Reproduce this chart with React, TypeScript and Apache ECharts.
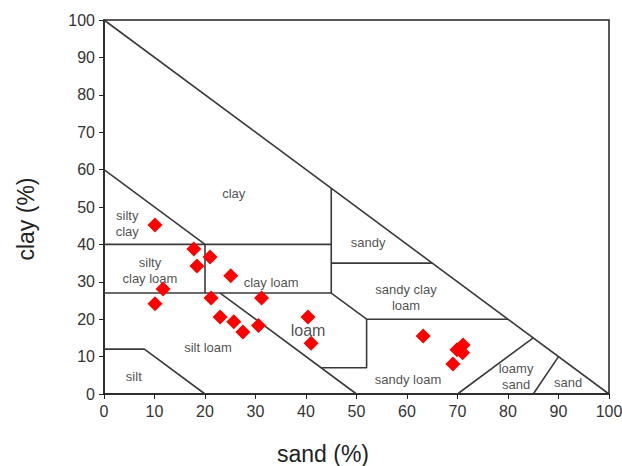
import React, { useEffect, useRef } from "react";
import * as echarts from "echarts";

const sandValues = [10.1, 17.8, 18.4, 21.0, 25.1, 11.7, 10.1, 21.2, 23.0, 25.7, 27.5, 31.2, 30.6, 40.4, 41.0, 63.2, 71.1, 69.9, 71.0, 69.1];
const clayValues = [45.2, 38.8, 34.2, 36.6, 31.6, 28.1, 24.1, 25.7, 20.6, 19.3, 16.6, 25.7, 18.3, 20.6, 13.6, 15.5, 13.1, 11.8, 11.0, 8.0];

// texture class boundaries as polylines [sand, clay]
const boundaries: number[][][] = [
  [[0, 100], [100, 0]],
  [[0, 60], [20, 40]],
  [[0, 40], [45, 40]],
  [[0, 27], [45, 27]],
  [[20, 40], [20, 27]],
  [[45, 55], [45, 27], [52, 20], [52, 7], [43, 7]],
  [[45, 35], [65, 35]],
  [[52, 20], [80, 20]],
  [[23, 27], [50, 0]],
  [[0, 12], [8, 12], [20, 0]],
  [[70, 0], [85, 15]],
  [[85, 0], [90, 10]],
];

const classNames = ["clay", "silty\nclay", "sandy", "silty\nclay loam", "clay loam", "sandy clay\nloam", "silt loam", "sandy loam", "loamy\nsand", "sand", "silt"];
const classSand = [25.7, 4.6, 52.3, 9.1, 33.1, 59.8, 20.6, 60.2, 81.6, 91.9, 5.9];
const classClay = [53.5, 45.6, 40.4, 33.0, 29.7, 25.8, 12.3, 4.0, 4.7, 3.2, 4.6];

const loamLabel = { name: "loam", sand: 40.4, clay: 17.1 };

const xAxisTitle = "sand (%)";
const yAxisTitle = "clay (%)";

export default function App() {
  const ref = useRef<HTMLDivElement>(null);
  useEffect(() => {
    document.body.style.margin = "0";
    const chart = echarts.init(ref.current!, undefined, { renderer: "svg" });
    const font = "Liberation Sans, Arial, sans-serif";
    const lineSeries = boundaries.map((b) => ({
      type: "line",
      data: b,
      symbol: "none",
      silent: true,
      lineStyle: { color: "#3a3a3a", width: 1.6 },
      z: 2,
    }));
    chart.setOption({
      animation: false,
      textStyle: { fontFamily: font },
      grid: {
        left: 104, right: 13, top: 20, bottom: 72,
        outerBoundsMode: "none", containLabel: false,
        show: true, borderColor: "#222", borderWidth: 1.5,
      },
      graphic: [
        {
          type: "text",
          x: 323,
          y: 454,
          style: { text: xAxisTitle, font: "23px Liberation Sans, Arial, sans-serif", fill: "#222", align: "center", verticalAlign: "middle" },
        },
        {
          type: "text",
          x: 26,
          y: 219,
          rotation: Math.PI / 2,
          style: { text: yAxisTitle, font: "23px Liberation Sans, Arial, sans-serif", fill: "#222", align: "center", verticalAlign: "middle" },
        },
      ],
      xAxis: {
        type: "value",
        min: 0,
        max: 100,
        interval: 10,
        axisLine: { lineStyle: { color: "#222", width: 1.5 } },
        axisTick: { show: true, inside: false, length: 5, lineStyle: { color: "#222" } },
        axisLabel: { fontSize: 16, color: "#333", margin: 9, fontFamily: font },
        splitLine: { show: false },
      },
      yAxis: {
        type: "value",
        min: 0,
        max: 100,
        interval: 10,
        axisLine: { lineStyle: { color: "#222", width: 1.5 } },
        axisTick: { show: true, inside: false, length: 5, lineStyle: { color: "#222" } },
        axisLabel: { fontSize: 16, color: "#333", margin: 9, fontFamily: font },
        splitLine: { show: false },
      },
      series: [
        ...lineSeries,
        {
          type: "scatter",
          symbol: "circle",
          symbolSize: 1,
          itemStyle: { color: "rgba(0,0,0,0)" },
          silent: true,
          data: classNames.map((n, i) => ({ name: n, value: [classSand[i], classClay[i]] })),
          label: {
            show: true,
            position: "inside",
            formatter: "{b}",
            fontSize: 13,
            color: "#222",
            align: "center",
            lineHeight: 16,
            fontFamily: font,
          },
          z: 3,
        },
        {
          type: "scatter",
          symbol: "circle",
          symbolSize: 1,
          itemStyle: { color: "rgba(0,0,0,0)" },
          silent: true,
          data: [{ name: loamLabel.name, value: [loamLabel.sand, loamLabel.clay] }],
          label: { show: true, position: "inside", formatter: "{b}", fontSize: 16, color: "#222", fontFamily: font },
          z: 3,
        },
        {
          type: "scatter",
          symbol: "diamond",
          symbolSize: 15,
          itemStyle: { color: "#ff0000", opacity: 1 },
          data: sandValues.map((s, i) => [s, clayValues[i]]),
          z: 4,
        },
      ],
    });
    return () => chart.dispose();
  }, []);
  return <div ref={ref} style={{ position: "absolute", left: 0, top: 0, width: 622, height: 466 }} />;
}
